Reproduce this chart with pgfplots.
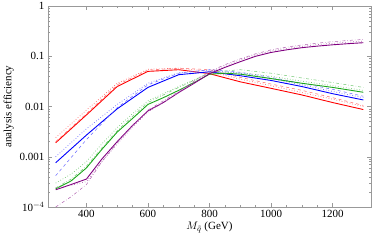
\documentclass[border=0pt]{standalone}
\usepackage{pgfplots}
\pgfplotsset{compat=1.18}
\usepackage{fontspec}
\setmainfont{Liberation Serif}
\definecolor{cred}{rgb}{1,0,0}
\definecolor{cblue}{rgb}{0,0,1}
\definecolor{cgreen}{rgb}{0.1,0.65,0.1}
\definecolor{cpurple}{rgb}{0.5,0,0.5}
\begin{document}
\begin{tikzpicture}
\begin{axis}[
  scale only axis, width=323pt, height=201pt,
  ymode=log, xmin=275, xmax=1325, ymin=1e-4, ymax=1,
  xtick={400,600,800,1000,1200}, minor x tick num=3,
  xticklabels={400,600,800,1000,1200},
  ytick={1e-4,1e-3,1e-2,1e-1,1},
  yticklabels={10$^{-4}$,0.001,0.01,0.1,1},
  /pgf/number format/assume math mode=true,
  tick align=inside, major tick length=4pt, minor tick length=2pt,
  axis line style={gray!80}, every tick/.style={gray!80},
  tick label style={font=\fontsize{11}{12}\selectfont},
  label style={font=\fontsize{11}{12}\selectfont},
  xlabel={$M_{\tilde q}$ (GeV)}, ylabel={analysis efficiency},
  xlabel style={yshift=3pt}, ylabel style={yshift=-1pt},
  clip=true,
]
% red
\addplot[cred, line width=0.9pt] coordinates {(300,0.0019)(400,0.0068)(500,0.025)(600,0.050)(700,0.054)(800,0.045)(900,0.031)(1000,0.023)(1100,0.017)(1200,0.012)(1300,0.0087)};
\addplot[cred!60, line width=0.7pt, dotted] coordinates {(300,0.0024)(400,0.0085)(500,0.029)(600,0.055)(700,0.058)(800,0.050)(900,0.035)(1000,0.026)(1100,0.019)(1200,0.014)(1300,0.010)};
\addplot[cred!60, line width=0.5pt, dashed] coordinates {(300,0.0020)(400,0.0072)(500,0.027)(600,0.053)(700,0.058)(800,0.054)(900,0.038)(1000,0.028)(1100,0.021)(1200,0.015)(1300,0.0105)};
% blue
\addplot[cblue, line width=0.9pt] coordinates {(300,0.00076)(400,0.0027)(500,0.009)(600,0.024)(700,0.043)(800,0.049)(900,0.041)(1000,0.033)(1100,0.025)(1200,0.018)(1300,0.0135)};
\addplot[cblue!60, line width=0.7pt, dotted] coordinates {(300,0.0010)(400,0.0036)(500,0.011)(600,0.029)(700,0.047)(800,0.053)(900,0.046)(1000,0.036)(1100,0.027)(1200,0.020)(1300,0.015)};
\addplot[cblue!60, line width=0.5pt, dashed] coordinates {(300,0.00042)(400,0.0022)(500,0.0095)(600,0.027)(700,0.046)(800,0.054)(900,0.048)(1000,0.038)(1100,0.029)(1200,0.022)(1300,0.016)};
% green
\addplot[cgreen, line width=0.9pt] coordinates {(300,0.00023)(350,0.00033)(400,0.0006)(450,0.0014)(500,0.0031)(550,0.0058)(600,0.011)(650,0.015)(700,0.021)(750,0.030)(800,0.044)(850,0.046)(900,0.044)(1000,0.036)(1100,0.029)(1200,0.024)(1300,0.0192)};
\addplot[cgreen!60, line width=0.7pt, dotted] coordinates {(300,0.0003)(350,0.00045)(400,0.0008)(450,0.0018)(500,0.0038)(550,0.0072)(600,0.013)(650,0.018)(700,0.025)(750,0.034)(800,0.047)(900,0.047)(1000,0.040)(1100,0.032)(1200,0.026)(1300,0.021)};
\addplot[cgreen!60, line width=0.5pt, dash dot] coordinates {(300,0.00024)(350,0.00036)(400,0.00065)(450,0.0015)(500,0.0033)(550,0.0064)(600,0.012)(650,0.017)(700,0.024)(750,0.033)(800,0.048)(900,0.054)(1000,0.046)(1100,0.037)(1200,0.030)(1300,0.024)};
% purple
\addplot[cpurple, line width=0.9pt] coordinates {(300,0.00022)(350,0.00028)(400,0.00036)(450,0.0009)(500,0.002)(550,0.0042)(600,0.0082)(650,0.012)(700,0.019)(750,0.029)(800,0.045)(850,0.060)(900,0.078)(950,0.100)(1000,0.119)(1050,0.134)(1100,0.148)(1150,0.159)(1200,0.169)(1250,0.178)(1300,0.186)};
\addplot[cpurple!60, line width=0.7pt, dotted] coordinates {(300,0.00024)(350,0.00027)(400,0.00032)(450,0.0008)(500,0.0018)(550,0.0039)(600,0.0078)(650,0.012)(700,0.019)(750,0.030)(800,0.048)(850,0.065)(900,0.085)(950,0.107)(1000,0.127)(1050,0.143)(1100,0.158)(1150,0.170)(1200,0.181)(1250,0.191)(1300,0.200)};
\addplot[cpurple!60, line width=0.5pt, dash dot] coordinates {(300,0.0001)(350,0.00016)(400,0.00028)(450,0.0008)(500,0.0019)(550,0.0041)(600,0.0085)(650,0.013)(700,0.020)(750,0.032)(800,0.050)(850,0.068)(900,0.089)(950,0.112)(1000,0.134)(1050,0.152)(1100,0.168)(1150,0.182)(1200,0.195)(1250,0.206)(1300,0.216)};
\end{axis}
\pgfresetboundingbox
\path (current axis.south west) ++(-48pt,-34pt) coordinate (bl);
\path (current axis.north east) ++(3pt,6pt) coordinate (tr);
\useasboundingbox (bl) rectangle (tr);
\end{tikzpicture}
\end{document}
